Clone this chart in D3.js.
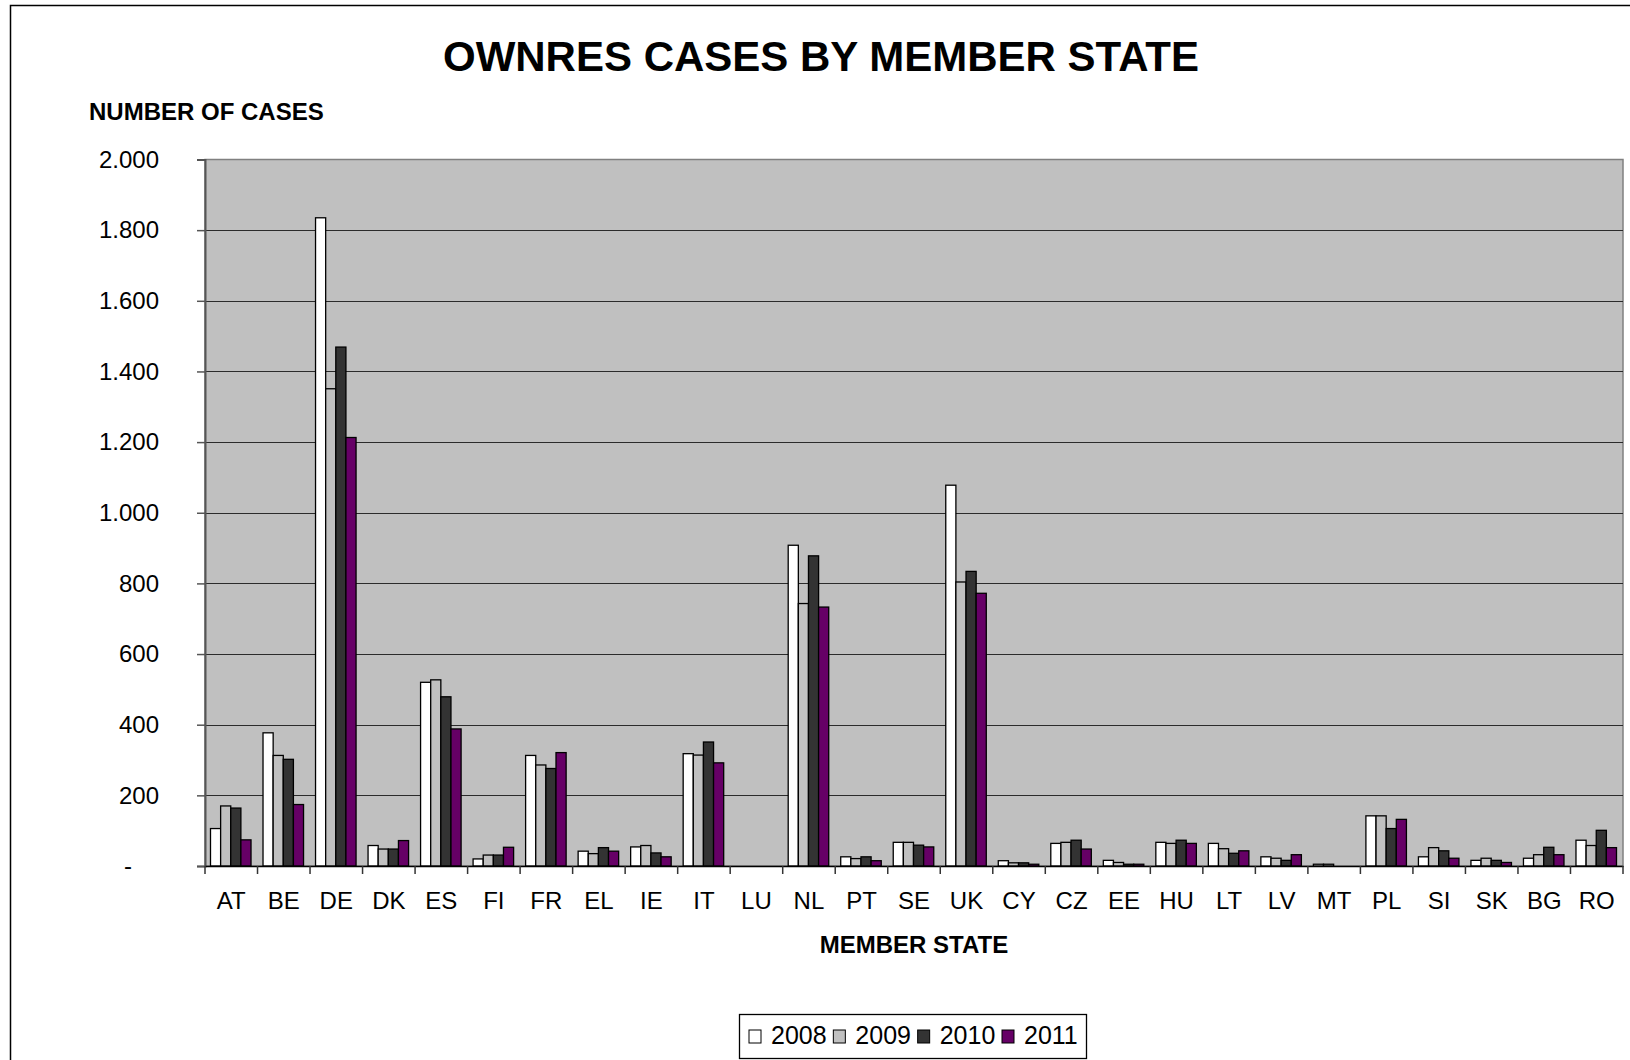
<!DOCTYPE html>
<html lang="en">
<head>
<meta charset="utf-8">
<title>OWNRES cases by member state</title>
<script src="https://cdn.jsdelivr.net/npm/d3@7"></script>
<style>
  body {
    margin: 0;
    padding: 0;
    background: #fff;
    overflow: hidden;
  }
  text {
    font-family: "Liberation Sans", Arial, sans-serif;
    fill: #000;
  }
  .bold {
    font-weight: bold;
  }
</style>
</head>
<body>
<script>
// categories and series
var states = ["AT","BE","DE","DK","ES","FI","FR","EL","IE","IT","LU","NL","PT","SE","UK",
              "CY","CZ","EE","HU","LT","LV","MT","PL","SI","SK","BG","RO"];
var years = ["2008","2009","2010","2011"];

var cases2008 = [106, 377, 1835, 58, 520, 20, 313, 42, 54, 318, 0, 908, 26, 67, 1078,
                 15, 64, 16, 67, 64, 26, 5, 142, 26, 16, 22, 73];
var cases2009 = [170, 313, 1351, 48, 527, 31, 286, 35, 58, 314, 0, 743, 21, 67, 804,
                 9, 67, 10, 64, 49, 22, 5, 142, 52, 22, 32, 58];
var cases2010 = [164, 302, 1469, 48, 479, 31, 276, 52, 37, 351, 0, 878, 26, 59, 834,
                 9, 73, 5, 73, 36, 16, 0, 106, 43, 16, 53, 101];
var cases2011 = [74, 174, 1213, 72, 388, 53, 321, 42, 26, 292, 0, 733, 15, 54, 772,
                 5, 48, 5, 64, 43, 32, 0, 132, 22, 10, 32, 52];

var yTicks = [0, 200, 400, 600, 800, 1000, 1200, 1400, 1600, 1800, 2000];
var yearColors = ["#ffffff", "#c0c0c0", "#333333", "#660066"];

var series = [cases2008, cases2009, cases2010, cases2011];

var W = 1630, H = 1060;
var plot = {left: 205, right: 1623, top: 159.5, bottom: 866};

var svg = d3.select("body").append("svg")
    .attr("width", W)
    .attr("height", H);

// outer chart frame (runs off the right and bottom edge)
svg.append("rect")
    .attr("x", 10.5)
    .attr("y", 5.5)
    .attr("width", 1700)
    .attr("height", 1200)
    .attr("fill", "none")
    .attr("stroke", "#000")
    .attr("stroke-width", 1.5);

var x0 = d3.scaleBand()
    .domain(states)
    .range([plot.left, plot.right])
    .paddingInner(0)
    .paddingOuter(0);

var x1 = d3.scaleBand()
    .domain(years)
    .range([5.5, x0.bandwidth() - 6.5]);

var y = d3.scaleLinear()
    .domain([0, 2000])
    .range([plot.bottom, plot.top]);

var fmt = function(d){
  if (d === 0) return "-";
  return d3.format(",")(d).replace(/,/g, ".");
};

// plot area
svg.append("rect")
    .attr("x", plot.left)
    .attr("y", plot.top)
    .attr("width", plot.right - plot.left)
    .attr("height", plot.bottom - plot.top)
    .attr("fill", "#c0c0c0")
    .attr("stroke", "#808080")
    .attr("stroke-width", 1.5);

// gridlines
svg.append("g")
    .selectAll("line")
    .data(yTicks.filter(function(d){ return d > 0 && d < 2000; }))
    .enter().append("line")
    .attr("x1", plot.left)
    .attr("x2", plot.right)
    .attr("y1", function(d){ return Math.round(y(d)) + 0.5; })
    .attr("y2", function(d){ return Math.round(y(d)) + 0.5; })
    .attr("stroke", "#2b2b2b")
    .attr("stroke-width", 1.2);

// bars
var groups = svg.append("g")
    .selectAll("g")
    .data(states)
    .enter().append("g")
    .attr("transform", function(d){ return "translate(" + x0(d) + ",0)"; });

groups.selectAll("rect")
    .data(function(d, i){
      return years.map(function(yr, j){ return {year: yr, value: series[j][i], k: j}; });
    })
    .enter().append("rect")
    .filter(function(d){ return d.value > 0; })
    .attr("x", function(d){ return x1(d.year); })
    .attr("y", function(d){ return y(d.value); })
    .attr("width", x1.bandwidth())
    .attr("height", function(d){ return y(0) - y(d.value); })
    .attr("fill", function(d){ return yearColors[d.k]; })
    .attr("stroke", "#000")
    .attr("stroke-width", 1.3);

// y axis
var yAxis = d3.axisLeft(y)
    .tickValues(yTicks)
    .tickFormat(fmt)
    .tickSize(8)
    .tickPadding(38);

var yg = svg.append("g")
    .attr("transform", "translate(" + plot.left + ",0)")
    .call(yAxis);
yg.select(".domain").attr("stroke", "#555").attr("stroke-width", 2);
yg.selectAll(".tick line").attr("stroke", "#555").attr("stroke-width", 1.5);
yg.selectAll(".tick text")
    .attr("font-size", 24)
    .attr("font-family", "Liberation Sans, Arial, sans-serif")
    .attr("fill", "#000");
// the zero label "-" sits further left, as in an accounting format
yg.selectAll(".tick text")
    .filter(function(d){ return d === 0; })
    .attr("dx", -27);

// x axis
var xAxis = d3.axisBottom(x0)
    .tickSize(0)
    .tickPadding(26);

var xg = svg.append("g")
    .attr("transform", "translate(0," + plot.bottom + ")")
    .call(xAxis);
xg.select(".domain").attr("stroke", "#000").attr("stroke-width", 1.5);
xg.selectAll(".tick text")
    .attr("font-size", 24)
    .attr("font-family", "Liberation Sans, Arial, sans-serif")
    .attr("fill", "#000");

// category boundary ticks
xg.append("g")
    .selectAll("line")
    .data(states.concat(["end"]))
    .enter().append("line")
    .attr("x1", function(d, i){ return plot.left + i * x0.step(); })
    .attr("x2", function(d, i){ return plot.left + i * x0.step(); })
    .attr("y1", 0)
    .attr("y2", 8)
    .attr("stroke", "#333")
    .attr("stroke-width", 1.5);

// titles
svg.append("text")
    .attr("class", "bold")
    .attr("x", 821)
    .attr("y", 71)
    .attr("text-anchor", "middle")
    .attr("font-size", 42)
    .text("OWNRES CASES BY MEMBER STATE");

svg.append("text")
    .attr("class", "bold")
    .attr("x", 89)
    .attr("y", 120)
    .attr("font-size", 24)
    .text("NUMBER OF CASES");

svg.append("text")
    .attr("class", "bold")
    .attr("x", (plot.left + plot.right) / 2)
    .attr("y", 953)
    .attr("text-anchor", "middle")
    .attr("font-size", 24)
    .text("MEMBER STATE");

// legend
var legend = svg.append("g").attr("transform", "translate(739,1014)");
legend.append("rect")
    .attr("x", 0.5)
    .attr("y", 0.5)
    .attr("width", 347)
    .attr("height", 44)
    .attr("fill", "#fff")
    .attr("stroke", "#000")
    .attr("stroke-width", 1.3);

var legX = d3.scalePoint()
    .domain(years)
    .range([10, 263]);

var items = legend.selectAll("g.item")
    .data(years)
    .enter().append("g")
    .attr("class", "item")
    .attr("transform", function(d){ return "translate(" + legX(d) + ",0)"; });

items.append("rect")
    .attr("x", 0)
    .attr("y", 16)
    .attr("width", 12)
    .attr("height", 13)
    .attr("fill", function(d, i){ return yearColors[i]; })
    .attr("stroke", "#000")
    .attr("stroke-width", 1);

items.append("text")
    .attr("x", 22)
    .attr("y", 30)
    .attr("font-size", 25)
    .text(function(d){ return d; });
</script>
</body>
</html>
